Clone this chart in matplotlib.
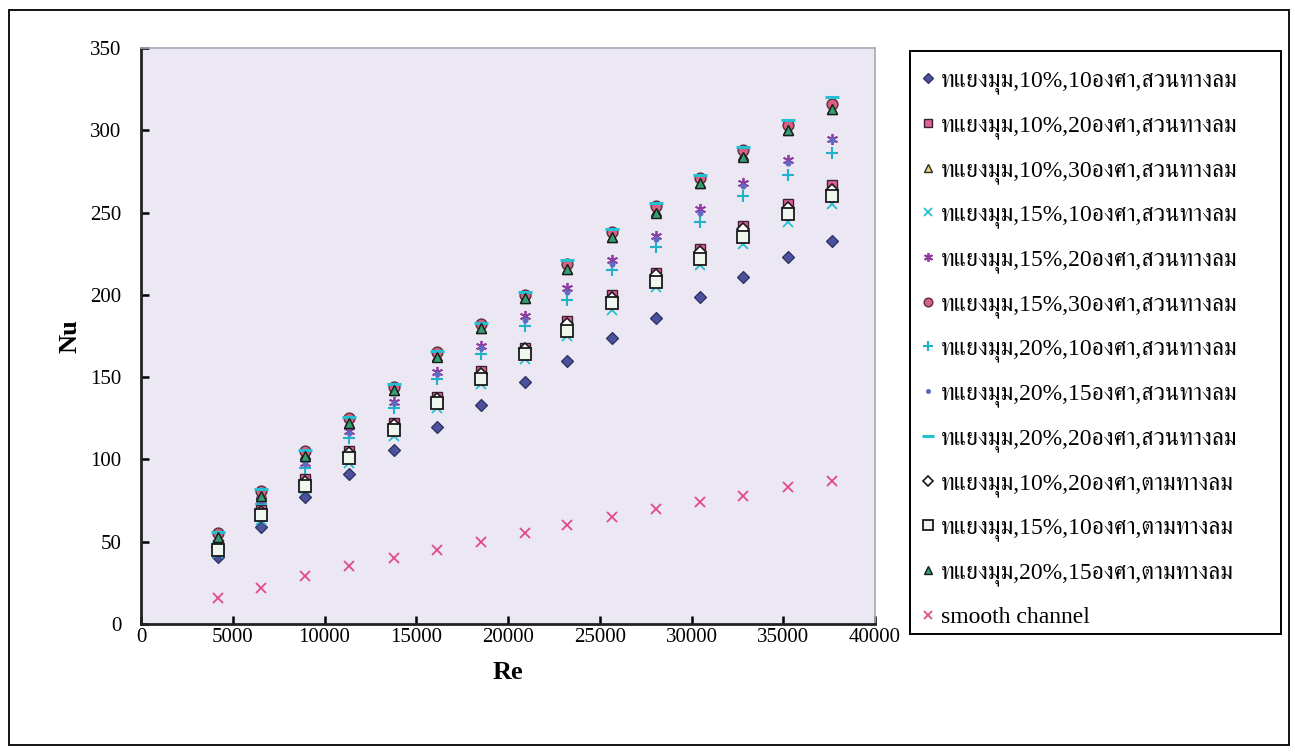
import matplotlib
matplotlib.use("Agg")
import matplotlib.pyplot as plt
from matplotlib import font_manager, ft2font
from matplotlib.patches import Rectangle

# ---- data -------------------------------------------------------------
re_vals = [4200, 6540, 8940, 11330, 13790, 16130, 18530, 20930,
           23220, 25670, 28070, 30460, 32810, 35260, 37660]

nu_d10_10_up = [41, 59, 77, 91, 106, 120, 133, 147, 160, 174, 186, 199, 211, 223, 233]
nu_d10_20_up = [48, 69, 88, 105, 122, 138, 154, 168, 184, 200, 213, 228, 242, 255, 267]
nu_d10_30_up = [53, 79, 103, 122, 142, 163, 180, 198, 216, 235, 251, 268, 285, 300, 313]
nu_d15_10_up = [43, 63, 82, 98, 114, 131, 146, 161, 175, 191, 205, 218, 231, 244, 255]
nu_d15_20_up = [50, 76, 98, 117, 135, 153, 169, 187, 204, 221, 236, 252, 268, 282, 295]
nu_d15_30_up = [55, 81, 105, 125, 144, 165, 182, 200, 219, 238, 254, 271, 288, 303, 316]
nu_d20_10_up = [49, 73, 95, 113, 131, 149, 164, 181, 197, 215, 229, 244, 260, 273, 286]
nu_d20_15_up = [51, 75, 97, 116, 134, 152, 168, 185, 202, 219, 234, 250, 266, 280, 294]
nu_d20_20_up = [56, 82, 106, 126, 146, 166, 183, 202, 221, 240, 256, 273, 290, 306, 320]
nu_d10_20_co = [47, 68, 86, 104, 121, 137, 152, 167, 182, 198, 212, 226, 240, 253, 264]
nu_d15_10_co = [45, 66, 84, 101, 118, 134, 149, 164, 178, 195, 208, 222, 235, 249, 260]
nu_d20_15_co = [53, 78, 102, 122, 142, 162, 180, 198, 216, 235, 250, 268, 284, 300, 313]
nu_smooth = [16, 22, 29, 35, 40, 45, 50, 55, 60, 65, 70, 74, 78, 83, 87]

labels = [
    "ทแยงมุม,10%,10องศา,สวนทางลม",
    "ทแยงมุม,10%,20องศา,สวนทางลม",
    "ทแยงมุม,10%,30องศา,สวนทางลม",
    "ทแยงมุม,15%,10องศา,สวนทางลม",
    "ทแยงมุม,15%,20องศา,สวนทางลม",
    "ทแยงมุม,15%,30องศา,สวนทางลม",
    "ทแยงมุม,20%,10องศา,สวนทางลม",
    "ทแยงมุม,20%,15องศา,สวนทางลม",
    "ทแยงมุม,20%,20องศา,สวนทางลม",
    "ทแยงมุม,10%,20องศา,ตามทางลม",
    "ทแยงมุม,15%,10องศา,ตามทางลม",
    "ทแยงมุม,20%,15องศา,ตามทางลม",
    "smooth channel",
]

x_ticks = [0, 5000, 10000, 15000, 20000, 25000, 30000, 35000, 40000]
y_ticks = [0, 50, 100, 150, 200, 250, 300, 350]


# ---- fonts ------------------------------------------------------------
def find_thai_family():
    preferred = []
    others = []
    for f in font_manager.fontManager.ttflist:
        try:
            cmap = ft2font.FT2Font(f.fname).get_charmap()
        except Exception:
            continue
        if 0x0E17 in cmap and 0x0E21 in cmap:
            if "serif" in f.name.lower() and "sans" not in f.name.lower():
                preferred.append(f.name)
            else:
                others.append(f.name)
    for lst in (preferred, others):
        if lst:
            return lst[0]
    return None


thai = find_thai_family()
serif_list = ["Liberation Serif"] + ([thai] if thai else []) + ["DejaVu Sans"]
plt.rcParams["font.family"] = serif_list

W, H = 1295, 753


def fx(px):
    return px / W


def fy(py):
    return 1 - py / H


# ---- figure -----------------------------------------------------------
fig = plt.figure(figsize=(W / 100, H / 100), dpi=100)
fig.patch.set_facecolor("white")
fig.add_artist(Rectangle((fx(9), fy(745)), 1280 / W, 735 / H,
                         transform=fig.transFigure, fill=False,
                         edgecolor="black", linewidth=1.3))

ax = fig.add_axes([fx(141), fy(624), 734 / W, 576 / H])
ax.set_facecolor("#ebe7f3")

styles = [
    dict(marker="D", ms=6.3, mfc="#4c519c", mec="#2c2f60", mew=0.9),
    dict(marker="s", ms=7.2, mfc="#e2609a", mec="#3a2030", mew=1.0),
    dict(marker="^", ms=7.8, mfc="#e6d87a", mec="#2a2a2a", mew=1.0),
    dict(marker="x", ms=7.0, mfc="none", mec="#24c0d2", mew=1.3),
    dict(marker=(6, 2, 0), ms=8.0, mfc="none", mec="#8e3e9e", mew=1.3),
    dict(marker="o", ms=7.8, mfc="#d86080", mec="#5a3040", mew=1.0),
    dict(marker="+", ms=9.0, mfc="none", mec="#22b2c8", mew=1.5),
    dict(marker="o", ms=3.5, mfc="#5c6cc4", mec="#5c6cc4", mew=0.8),
    dict(marker="_", ms=10.0, mfc="none", mec="#24c0d2", mew=2.2),
    dict(marker="D", ms=6.3, mfc="white", mec="#1a1a1a", mew=1.2),
    dict(marker="s", ms=8.8, mfc="#eef6ee", mec="#1a1a1a", mew=1.3),
    dict(marker="^", ms=7.8, mfc="#34a072", mec="#1a1a1a", mew=1.0),
    dict(marker="x", ms=7.5, mfc="none", mec="#e24a86", mew=1.3),
]

series = [nu_d10_10_up, nu_d10_20_up, nu_d10_30_up, nu_d15_10_up,
          nu_d15_20_up, nu_d15_30_up, nu_d20_10_up, nu_d20_15_up,
          nu_d20_20_up, nu_d10_20_co, nu_d15_10_co, nu_d20_15_co,
          nu_smooth]

handles = []
for vals, st, lab in zip(series, styles, labels):
    h, = ax.plot(re_vals, vals, linestyle="none", label=lab, **st)
    handles.append(h)

ax.set_xlim(0, 40000)
ax.set_ylim(0, 350)
ax.set_xticks(x_ticks)
ax.set_yticks(y_ticks)
ax.set_xticklabels([str(v) for v in x_ticks])
ax.set_yticklabels([str(v) for v in y_ticks])
ax.tick_params(axis="both", direction="in", length=6, width=1.8,
               labelsize=15, colors="black")
ax.tick_params(axis="x", pad=3)
ax.tick_params(axis="y", pad=14)

for side in ("left", "bottom"):
    ax.spines[side].set_color("#222222")
    ax.spines[side].set_linewidth(2.0)
for side in ("top", "right"):
    ax.spines[side].set_color("#a8a8b8")
    ax.spines[side].set_linewidth(1.2)

ax.set_xlabel("Re", fontsize=19, fontweight="bold", labelpad=10)
ax.set_ylabel("Nu", fontsize=19, fontweight="bold", labelpad=6)

# legend box drawn as its own frame, entries placed inside it
fig.add_artist(Rectangle((fx(910), fy(634)), 371 / W, 583 / H,
                         transform=fig.transFigure, facecolor="white",
                         edgecolor="black", linewidth=1.4, zorder=1))
leg = fig.legend(handles=handles, loc="upper left",
                 bbox_to_anchor=(fx(922), fy(70)),
                 frameon=False, fontsize=17,
                 handlelength=0.55, handletextpad=0.25, labelspacing=0.865,
                 borderpad=0, borderaxespad=0, markerscale=0.8)
leg.set_zorder(2)

fig.savefig("out.png", dpi=100, facecolor="white")
